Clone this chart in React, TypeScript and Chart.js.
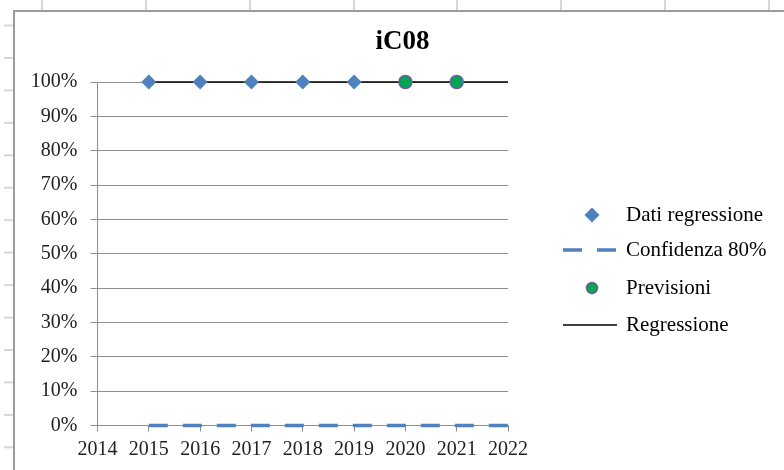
import React, { useEffect, useRef } from "react";
import { Chart, registerables } from "chart.js";

Chart.register(...registerables);

const chartTitle = "iC08";
const xMin = 2014;
const xMax = 2022;
const dataYears = [2015, 2016, 2017, 2018, 2019];
const dataValues = [1, 1, 1, 1, 1];
const confidenceYears = [2015, 2016, 2017, 2018, 2019, 2020, 2021, 2022];
const confidenceValues = [0, 0, 0, 0, 0, 0, 0, 0];
const forecastYears = [2020, 2021];
const forecastValues = [1, 1];
const regressionYears = [2015, 2016, 2017, 2018, 2019, 2020, 2021, 2022];
const regressionValues = [1, 1, 1, 1, 1, 1, 1, 1];
const seriesLabels = ["Dati regressione", "Confidenza 80%", "Previsioni", "Regressione"];

const FONT = "'Liberation Serif', 'Times New Roman', serif";
const GRID = "#8e8e8e";
const TEXT = "#222222";
const BLUE = "#4f81bd";
const GREEN = "#00a651";
const PURPLE = "#6d5fa6";

const pts = (xs: number[], ys: number[]) => xs.map((x, i) => ({ x, y: ys[i] }));

const sheetPlugin = {
  id: "sheet",
  beforeDraw(chart: any) {
    const ctx = chart.ctx;
    ctx.save();
    ctx.fillStyle = "#ffffff";
    ctx.fillRect(0, 0, chart.width, chart.height);
    ctx.strokeStyle = "#d6d6d6";
    ctx.lineWidth = 2;
    [42, 146, 250, 354, 457, 561, 665, 769].forEach((x) => {
      ctx.beginPath();
      ctx.moveTo(x, 0);
      ctx.lineTo(x, 11);
      ctx.stroke();
    });
    for (let y = 25.5; y < chart.height; y += 32.45) {
      ctx.beginPath();
      ctx.moveTo(4, y);
      ctx.lineTo(14, y);
      ctx.stroke();
    }
    ctx.strokeStyle = "#9c9c9c";
    ctx.lineWidth = 2;
    ctx.beginPath();
    ctx.moveTo(14, chart.height + 2);
    ctx.lineTo(14, 11);
    ctx.lineTo(chart.width + 2, 11);
    ctx.stroke();
    ctx.restore();
  },
};

const titleLegendPlugin = {
  id: "titleLegend",
  afterDraw(chart: any) {
    const ctx = chart.ctx;
    ctx.save();
    ctx.fillStyle = "#000000";
    ctx.font = `bold 27px ${FONT}`;
    ctx.textAlign = "center";
    ctx.textBaseline = "middle";
    ctx.fillText(chartTitle, 402.5, 42);

    const rows = [215, 250, 288, 325];
    const markX = 592;
    const textX = 626;
    chart.data.datasets.forEach((ds: any, i: number) => {
      const y = rows[i];
      ctx.save();
      if (ds.showLine === false) {
        ctx.fillStyle = ds.backgroundColor;
        ctx.strokeStyle = ds.borderColor;
        ctx.lineWidth = ds.pointBorderWidth || 0;
        ctx.beginPath();
        if (ds.pointStyle === "rectRot") {
          const r = 7.5;
          ctx.moveTo(markX, y - r);
          ctx.lineTo(markX + r, y);
          ctx.lineTo(markX, y + r);
          ctx.lineTo(markX - r, y);
          ctx.closePath();
          ctx.fill();
        } else {
          ctx.arc(markX, y, 5.5, 0, Math.PI * 2);
          ctx.fill();
          if (ctx.lineWidth) ctx.stroke();
        }
      } else {
        ctx.strokeStyle = ds.borderColor;
        ctx.lineWidth = ds.borderWidth;
        ctx.setLineDash(ds.borderDash || []);
        ctx.beginPath();
        ctx.moveTo(563, y);
        ctx.lineTo(617, y);
        ctx.stroke();
      }
      ctx.restore();
      ctx.fillStyle = "#000000";
      ctx.font = `21px ${FONT}`;
      ctx.textAlign = "left";
      ctx.textBaseline = "middle";
      ctx.fillText(ds.label, textX, y);
    });
    ctx.restore();
  },
};

export default function App() {
  const ref = useRef<HTMLCanvasElement | null>(null);

  useEffect(() => {
    if (!ref.current) return;
    const chart = new Chart(ref.current, {
      type: "scatter",
      data: {
        datasets: [
          {
            label: seriesLabels[0],
            data: pts(dataYears, dataValues),
            showLine: false,
            pointStyle: "rectRot",
            pointRadius: 7.5,
            pointBorderWidth: 0,
            backgroundColor: BLUE,
            borderColor: BLUE,
            clip: false,
          },
          {
            label: seriesLabels[1],
            data: pts(confidenceYears, confidenceValues),
            showLine: true,
            borderColor: BLUE,
            backgroundColor: BLUE,
            borderWidth: 3.5,
            borderDash: [19, 15],
            pointRadius: 0,
            clip: false,
          },
          {
            label: seriesLabels[2],
            data: pts(forecastYears, forecastValues),
            showLine: false,
            pointStyle: "circle",
            pointRadius: 6.5,
            pointBorderWidth: 1.5,
            backgroundColor: GREEN,
            borderColor: PURPLE,
            clip: false,
          },
          {
            label: seriesLabels[3],
            data: pts(regressionYears, regressionValues),
            showLine: true,
            borderColor: "#000000",
            backgroundColor: "#000000",
            borderWidth: 1.5,
            pointRadius: 0,
            clip: false,
          },
        ],
      },
      options: {
        animation: false,
        responsive: false,
        maintainAspectRatio: false,
        layout: { padding: { left: 0, top: 82, right: 276, bottom: 0 } },
        plugins: {
          legend: { display: false },
          title: { display: false },
          tooltip: { enabled: false },
        },
        scales: {
          x: {
            type: "linear",
            min: xMin,
            max: xMax,
            afterFit: (s: any) => {
              s.height = 44.5;
            },
            ticks: {
              stepSize: 1,
              autoSkip: false,
              maxRotation: 0,
              padding: 6,
              color: TEXT,
              font: { family: FONT, size: 20 },
              callback: (v: any) => String(v),
            },
            grid: {
              drawOnChartArea: false,
              drawTicks: true,
              tickLength: 6,
              color: GRID,
              lineWidth: 1,
            },
            border: { display: true, color: GRID, width: 1 },
          },
          y: {
            type: "linear",
            min: 0,
            max: 1,
            afterFit: (s: any) => {
              s.width = 97.5;
            },
            ticks: {
              stepSize: 0.1,
              padding: 13,
              color: TEXT,
              font: { family: FONT, size: 20 },
              callback: (v: any) => Math.round(Number(v) * 100) + "%",
            },
            grid: {
              drawTicks: true,
              tickLength: 7,
              color: GRID,
              lineWidth: 1,
            },
            border: { display: true, color: GRID, width: 1 },
          },
        },
      },
      plugins: [sheetPlugin, titleLegendPlugin],
    } as any);
    return () => chart.destroy();
  }, []);

  return (
    <div
      style={{
        position: "fixed",
        left: 0,
        top: 0,
        width: 784,
        height: 470,
        overflow: "hidden",
        background: "#ffffff",
      }}
    >
      <canvas ref={ref} width={784} height={470} style={{ display: "block", width: 784, height: 470 }} />
    </div>
  );
}
